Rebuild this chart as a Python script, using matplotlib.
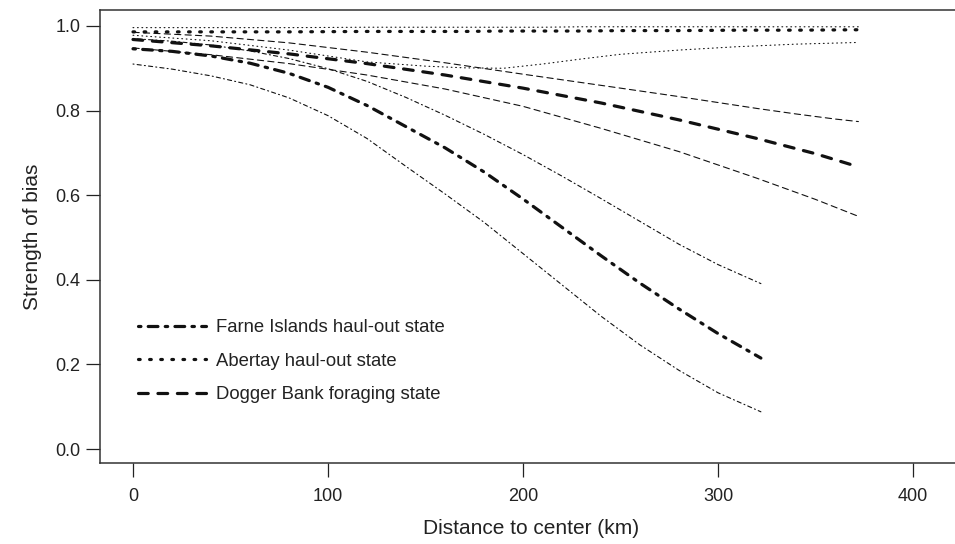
import matplotlib
matplotlib.use("Agg")
import matplotlib.pyplot as plt

plt.rcParams['font.family'] = ['Liberation Sans', 'DejaVu Sans']
plt.rcParams['lines.scale_dashes'] = False

# ---- data ----
farne_x = [0, 20, 40, 60, 80, 100, 120, 140, 160, 180, 200, 220, 240, 260, 280, 300, 322]
farne_mean = [0.946, 0.940, 0.929, 0.912, 0.888, 0.855, 0.812, 0.762, 0.712, 0.655, 0.591,
              0.524, 0.457, 0.392, 0.331, 0.273, 0.215]
farne_lower = [0.910, 0.898, 0.882, 0.861, 0.830, 0.788, 0.734, 0.668, 0.603, 0.536, 0.462,
               0.388, 0.314, 0.246, 0.186, 0.133, 0.088]
farne_upper = [0.970, 0.964, 0.955, 0.941, 0.923, 0.899, 0.869, 0.831, 0.789, 0.744, 0.696,
               0.645, 0.592, 0.538, 0.484, 0.436, 0.391]

abertay_x = [0, 40, 80, 120, 150, 170, 190, 210, 230, 250, 280, 310, 340, 372]
abertay_mean = [0.986, 0.986, 0.986, 0.987, 0.987, 0.987, 0.988, 0.988, 0.988, 0.989, 0.989,
                0.990, 0.990, 0.991]
abertay_lower = [0.978, 0.965, 0.943, 0.915, 0.905, 0.901, 0.900, 0.910, 0.922, 0.933, 0.943,
                 0.951, 0.957, 0.961]
abertay_upper = [0.996, 0.996, 0.996, 0.997, 0.997, 0.997, 0.997, 0.997, 0.998, 0.998, 0.998,
                 0.998, 0.998, 0.998]

dogger_x = [0, 40, 80, 120, 160, 200, 240, 280, 320, 350, 372]
dogger_mean = [0.968, 0.953, 0.934, 0.911, 0.884, 0.853, 0.818, 0.778, 0.734, 0.698, 0.667]
dogger_lower = [0.948, 0.932, 0.911, 0.884, 0.851, 0.810, 0.758, 0.703, 0.640, 0.590, 0.550]
dogger_upper_x = [0, 40, 80, 120, 160, 200, 250, 280, 300, 320, 340, 360, 372]
dogger_upper = [0.985, 0.976, 0.960, 0.938, 0.913, 0.886, 0.853, 0.833, 0.819, 0.805, 0.792,
                0.780, 0.774]

legend_labels = ["Farne Islands haul-out state", "Abertay haul-out state",
                 "Dogger Bank foraging state"]
x_ticks = [0, 100, 200, 300, 400]
y_ticks = [0.0, 0.2, 0.4, 0.6, 0.8, 1.0]

# ---- figure ----
W, H = 955, 544
fig = plt.figure(figsize=(W / 100, H / 100), dpi=100)
ax = fig.add_axes([100 / W, (H - 463) / H, (962 - 100) / W, (463 - 10) / H])

ink = '#111111'
thick, thin = 2.3, 0.8


def draw(x, y, dashes, lw):
    ln, = ax.plot(x, y, color=ink, lw=lw, solid_joinstyle='round')
    ln.set_dashes(dashes)
    ln.set_dash_capstyle('round')
    return ln


ut, un = 1.75, 0.75
dd_thick = tuple(s * ut for s in (1, 3, 4, 3))
dd_thin = tuple(s * un for s in (1, 3, 4, 3))
dot_thick = (1.2, 6.8)
dot_thin = (0.6, 2.6)
dash_thick = (7.0, 7.0)
dash_thin = (4.5, 3.0)

for y in (farne_lower, farne_upper):
    draw(farne_x, y, dd_thin, thin)
h1 = draw(farne_x, farne_mean, dd_thick, thick)

for y in (abertay_lower, abertay_upper):
    draw(abertay_x, y, dot_thin, thin)
h2 = draw(abertay_x, abertay_mean, dot_thick, thick)

draw(dogger_x, dogger_lower, dash_thin, thin)
draw(dogger_upper_x, dogger_upper, dash_thin, thin)
h3 = draw(dogger_x, dogger_mean, dash_thick, thick)

ax.set_xlim((100 - 133) / 1.95, (962 - 133) / 1.95)
ax.set_ylim(-0.033, 1.0377)

ax.set_xticks(x_ticks)
ax.set_xticklabels([str(v) for v in x_ticks])
ax.set_yticks(y_ticks)
ax.set_yticklabels([f"{v:.1f}" for v in y_ticks])

for s in ax.spines.values():
    s.set_color('#333333')
    s.set_linewidth(1.1)
ax.tick_params(axis='both', direction='out', length=10, width=0.9,
               color='#222222', labelsize=13, labelcolor='#222222')
ax.tick_params(axis='x', pad=8)
ax.tick_params(axis='y', pad=4)

ax.set_xlabel("Distance to center (km)", fontsize=15, color='#222222', labelpad=10)
ax.set_ylabel("Strength of bias", fontsize=15, color='#222222', labelpad=10)

leg = ax.legend([h1, h2, h3], legend_labels, loc='upper left',
                bbox_to_anchor=(138 / W, 1 - 319 / H), bbox_transform=fig.transFigure,
                frameon=False, fontsize=13.3, handlelength=3.7, handletextpad=0.5,
                labelspacing=0.9, borderpad=0, borderaxespad=0)
for t in leg.get_texts():
    t.set_color('#222222')

fig.savefig("out.png", dpi=100)
